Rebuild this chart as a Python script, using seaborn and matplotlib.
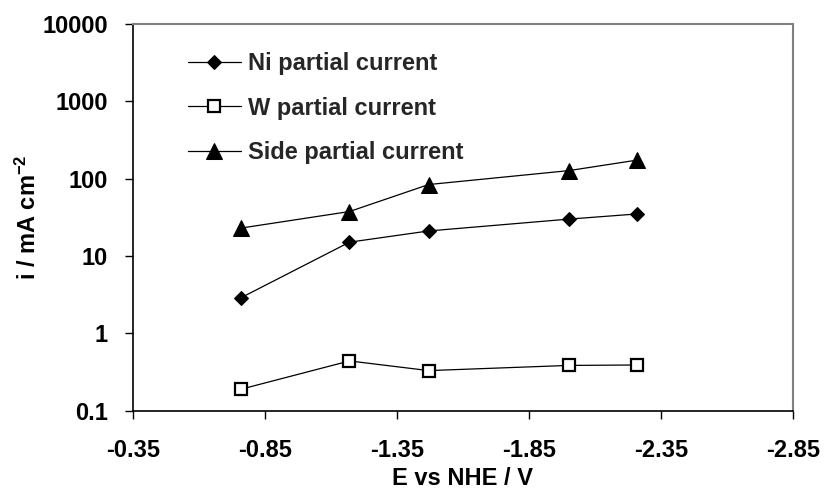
import matplotlib
matplotlib.use("Agg")
import matplotlib.pyplot as plt
import matplotlib.ticker as mticker
import seaborn as sns
import pandas as pd

# Data
potential = [-0.76, -1.17, -1.47, -2.00, -2.26]
ni_current = [2.9, 15.1, 21.1, 30.0, 35.0]
w_current = [0.19, 0.44, 0.33, 0.385, 0.39]
side_current = [23.0, 37.6, 84.0, 127.0, 174.0]

x_ticks = [-0.35, -0.85, -1.35, -1.85, -2.35, -2.85]
x_tick_labels = ["-0.35", "-0.85", "-1.35", "-1.85", "-2.35", "-2.85"]
y_ticks = [0.1, 1, 10, 100, 1000, 10000]
y_tick_labels = ["0.1", "1", "10", "100", "1000", "10000"]

sns.set_theme(style="white")
plt.rcParams["font.family"] = ["Liberation Sans", "DejaVu Sans"]
plt.rcParams["font.weight"] = "bold"
plt.rcParams["mathtext.fontset"] = "custom"
plt.rcParams["mathtext.rm"] = "Liberation Sans:bold"
plt.rcParams["mathtext.it"] = "Liberation Sans:bold"
plt.rcParams["mathtext.bf"] = "Liberation Sans:bold"
plt.rcParams["mathtext.default"] = "rm"

FS = 17

fig = plt.figure(figsize=(8.27, 4.95), dpi=100)
ax = fig.add_axes([133 / 827, 1 - 410.7 / 495, 660 / 827, (410.7 - 24) / 495])

df = pd.DataFrame({"E": potential, "Ni": ni_current, "W": w_current, "Side": side_current})

sns.lineplot(data=df, x="E", y="Ni", ax=ax, color="black", lw=0.9,
             marker="D", markersize=7.5, markeredgecolor="black",
             markerfacecolor="black", label="Ni partial current")
sns.lineplot(data=df, x="E", y="W", ax=ax, color="black", lw=0.9,
             marker="s", markersize=8.5, markeredgecolor="black",
             markerfacecolor="white", markeredgewidth=1.6,
             label="W partial current")
sns.lineplot(data=df, x="E", y="Side", ax=ax, color="black", lw=0.9,
             marker="^", markersize=11, markeredgecolor="black",
             markerfacecolor="black", label="Side partial current")

ax.set_yscale("log")
ax.set_ylim(0.1, 10000)
ax.set_xlim(-0.35, -2.85)
ax.yaxis.set_major_locator(mticker.FixedLocator(y_ticks))
ax.yaxis.set_major_formatter(mticker.FixedFormatter(y_tick_labels))
ax.yaxis.set_minor_locator(mticker.NullLocator())
ax.set_xticks(x_ticks)
ax.set_xticklabels(x_tick_labels)

ax.tick_params(axis="both", which="major", direction="out", length=5.8, width=1,
               color="black", labelsize=FS, labelcolor="black",
               left=True, bottom=True)
ax.tick_params(axis="y", pad=12.2)
ax.tick_params(axis="x", pad=14.4)
for lab in ax.get_xticklabels() + ax.get_yticklabels():
    lab.set_fontweight("bold")

for side in ["left", "bottom"]:
    ax.spines[side].set_color("black")
    ax.spines[side].set_linewidth(1.2)
for side in ["top", "right"]:
    ax.spines[side].set_color("#808080")
    ax.spines[side].set_linewidth(1.5)

ax.set_xlabel("E vs NHE / V", fontsize=FS, fontweight="bold", color="black", labelpad=3.6)
ax.set_ylabel(r"i / mA cm$^{-2}$", fontsize=FS, fontweight="bold", color="black", labelpad=1)

leg = ax.legend(loc="upper left", bbox_to_anchor=(0.083, 0.928), frameon=False,
                borderpad=0, borderaxespad=0, handlelength=2.25, handletextpad=0.3,
                labelspacing=0.92, prop={"weight": "bold", "size": FS})

fig.savefig("out.png", dpi=100)
